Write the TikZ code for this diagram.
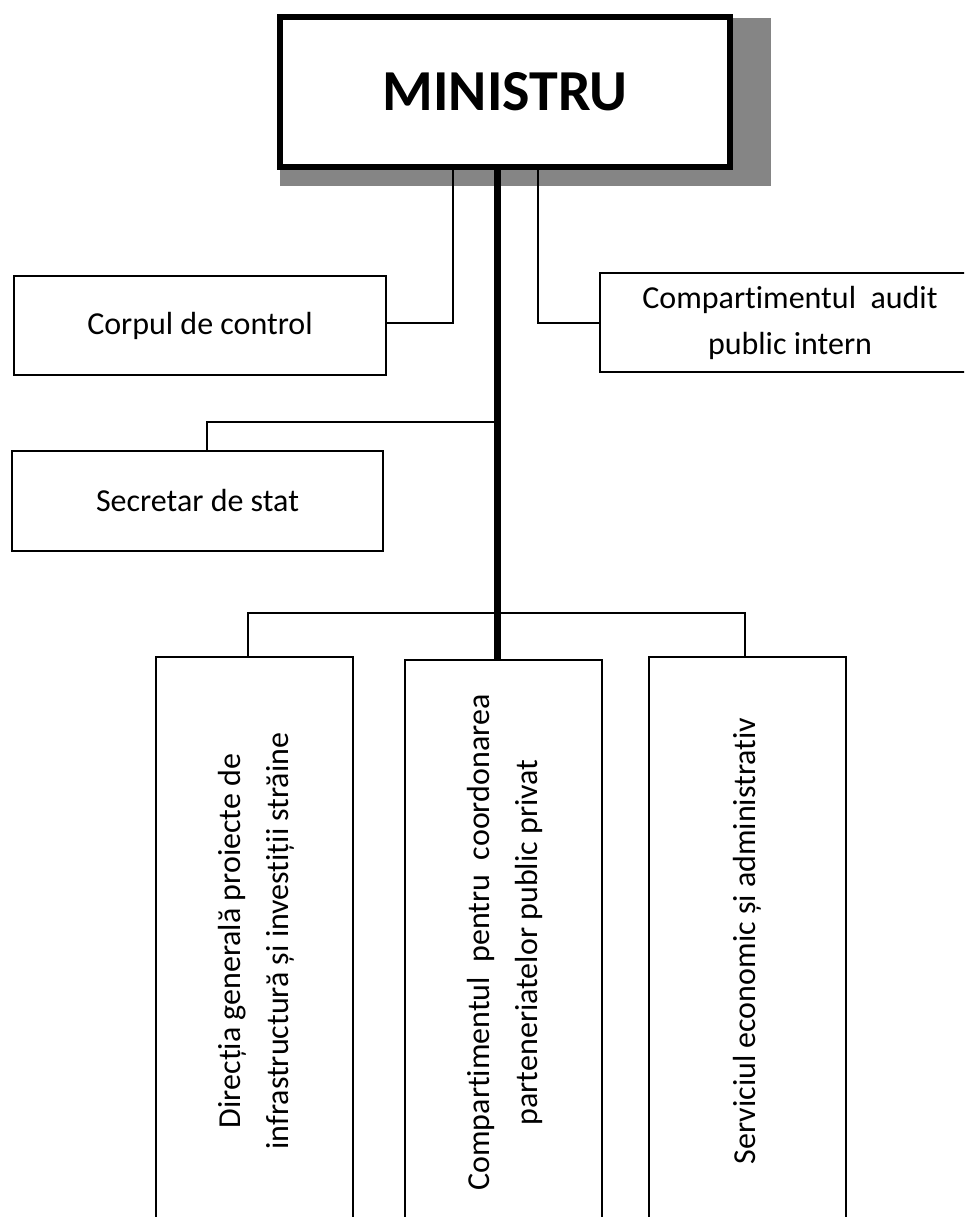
\documentclass[tikz,border=0pt]{standalone}
\usepackage{fontspec}
\setmainfont{Carlito}[Ligatures={NoCommon}]
\usepackage{graphicx}
\begin{document}
\begin{tikzpicture}[x=1pt,y=-1pt,
  box/.style={draw, line width=1.8pt, fill=white, inner sep=0pt, align=center,
              font=\fontsize{32}{46}\selectfont},
  vbox/.style={box, font=\fontsize{32}{48}\selectfont},
  topbox/.style={draw, line width=6pt, fill=white, inner sep=0pt,
              font=\fontsize{58}{62}\selectfont\bfseries},
  conn/.style={line width=1.8pt},
  trunk/.style={line width=7pt},
  shadow/.style={fill=black!48}
]
\useasboundingbox (0,0) rectangle (964,1217);
\clip (0,0) rectangle (964,1217);

% shadow of the top box
\fill[shadow] (280,18) rectangle (771,186);

% nodes
\node[topbox, minimum width=450pt, minimum height=150pt] (min) at (505,92) {MINISTRU};
\node[box, minimum width=372pt, minimum height=99pt] (corp) at (200,325.5) {Corpul de control};
\node[box, minimum width=380pt, minimum height=99pt] (audit) at (790,322.5) {Compartimentul\ \ audit\\public intern};
\node[box, minimum width=371pt, minimum height=100pt] (sec) at (197.5,501) {Secretar de stat};
\node[vbox, minimum width=197pt, minimum height=568pt] (c1) at (254.5,941)
  {\rotatebox{90}{\begin{tabular}{@{}c@{}}Direcția generală proiecte de\\infrastructură și investiții străine\end{tabular}}};
\node[vbox, minimum width=197pt, minimum height=565pt] (c2) at (503.5,942.5)
  {\rotatebox{90}{\begin{tabular}{@{}c@{}}Compartimentul\ \ pentru\ \ coordonarea\\parteneriatelor public privat\end{tabular}}};
\node[vbox, minimum width=197pt, minimum height=568pt] (c3) at (747.5,941)
  {\rotatebox{90}{Serviciul economic și administrativ}};

% junction coordinates
\coordinate (tr) at (497,0);
\coordinate (jL) at (453,323);
\coordinate (jR) at (538,323);
\coordinate (js) at (207,422);
\coordinate (jb1) at (248,613);
\coordinate (jb3) at (745,613);

% connectors
\draw[conn] (min.south -| jL) -- (jL) -- (corp.east |- jL);
\draw[conn] (min.south -| jR) -- (jR) -- (audit.west |- jR);
\draw[conn] (tr |- js) -| (sec.north -| js);
\draw[conn] (c1.north -| jb1) -- (jb1) -- (jb3) -- (c3.north -| jb3);
\draw[trunk] (min.south -| tr) -- (c2.north -| tr);
\end{tikzpicture}
\end{document}
